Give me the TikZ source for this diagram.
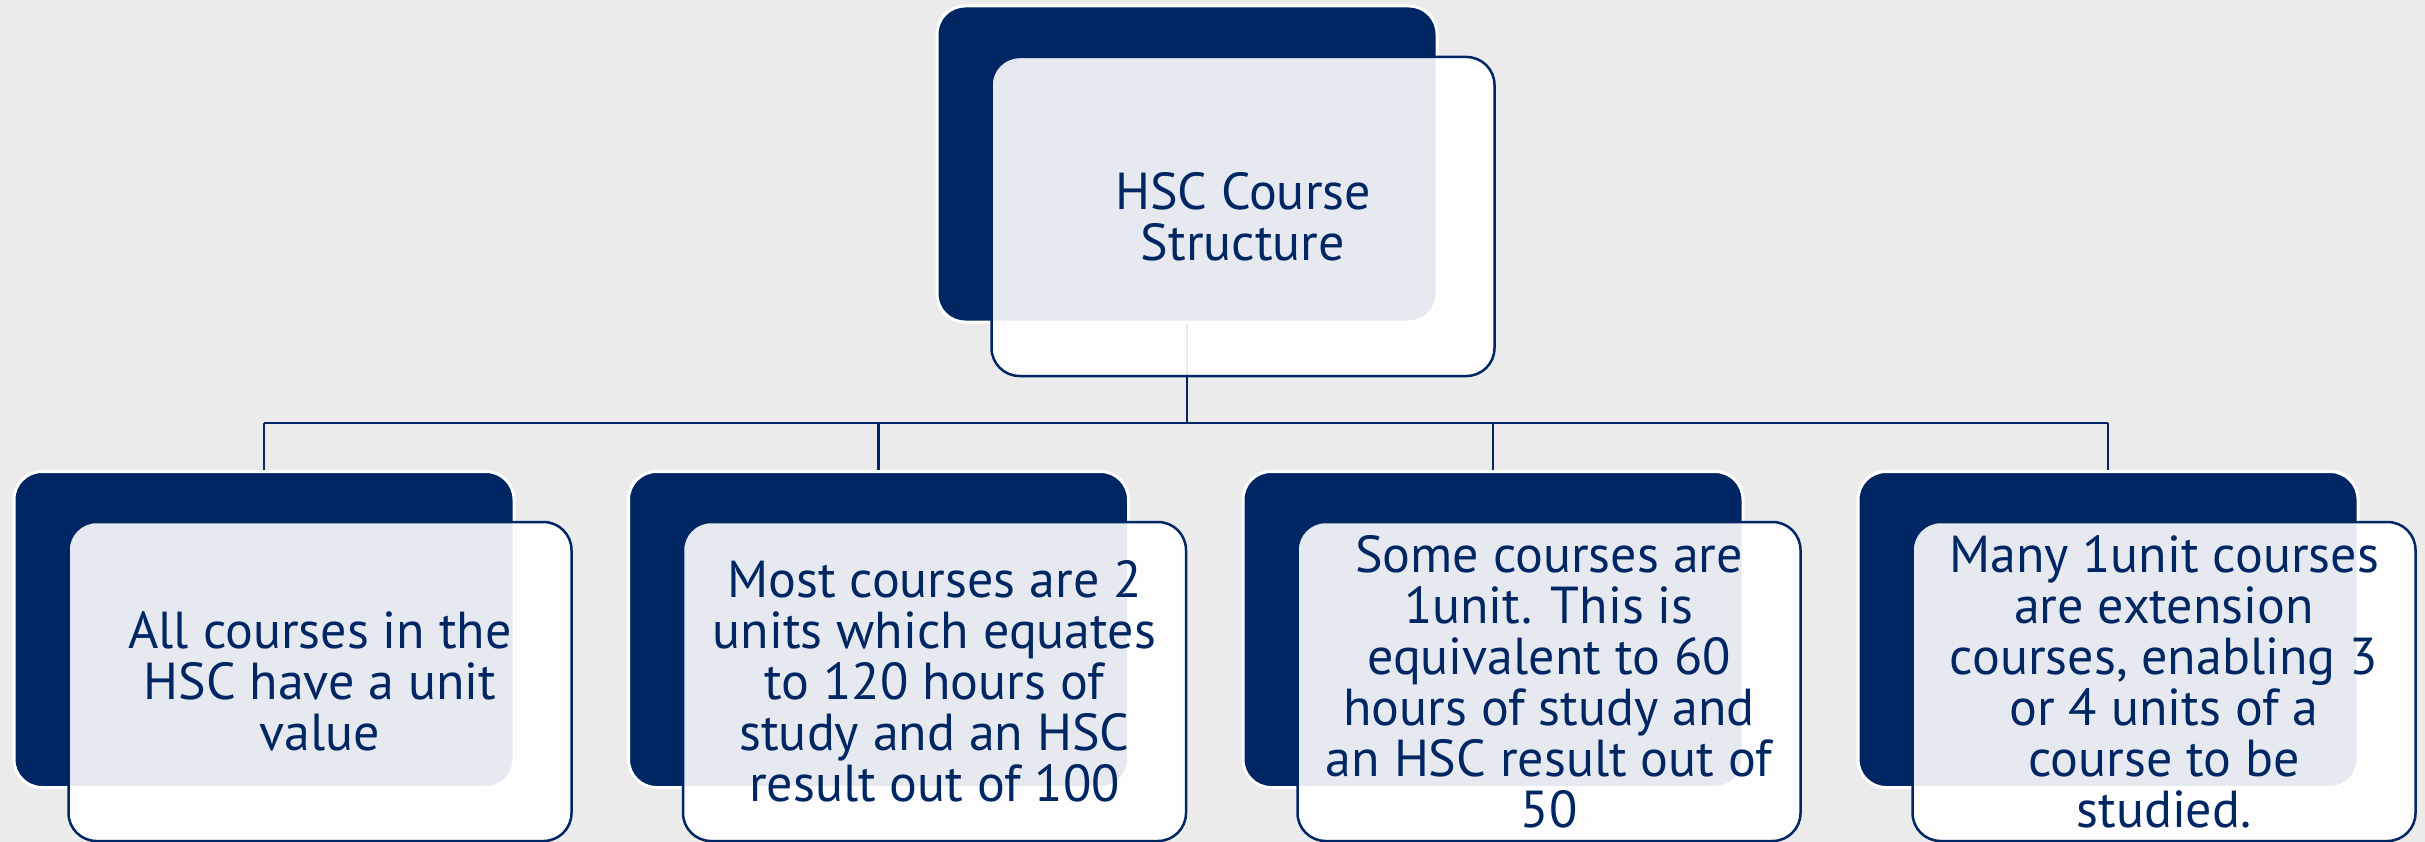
\documentclass[tikz,border=0pt]{standalone}
\usepackage{fontspec}
\setmainfont{PT Sans}
\definecolor{navy}{HTML}{002664}
\definecolor{bg}{HTML}{EBEBEB}
\begin{document}
\begin{tikzpicture}[x=1pt,y=-1pt,
  darkbox/.style={draw=white, line width=3pt, fill=navy, rounded corners=28pt,
    minimum width=500pt, minimum height=316pt, inner sep=0pt},
  frontbox/.style={draw=navy, line width=2.5pt, fill=white, fill opacity=0.9,
    text opacity=1, rounded corners=28pt, minimum width=503pt, minimum height=319pt,
    text=navy, align=center, font=\fontsize{52}{51}\selectfont, inner sep=0pt},
  link/.style={draw=navy, line width=2.5pt}]
\fill[bg] (0,0) rectangle (2425,842);
\useasboundingbox (0,0) rectangle (2425,842);
% dark back boxes
\node[darkbox] (td) at (1187,164) {};
\node[darkbox] (d1) at (264,629.5) {};
\node[darkbox] (d2) at (878.5,629.5) {};
\node[darkbox] (d3) at (1493,629.5) {};
\node[darkbox] (d4) at (2108,629.5) {};
% connectors
\coordinate (busL) at (264,423);
\coordinate (busR) at (2108,423);
\draw[link] (td.south) -- (td.south |- busL);
\draw[link] (busL) -- (busR);
\draw[link] (d1.north) -- (d1.north |- busL);
\draw[link] (d2.north) -- (d2.north |- busL);
\draw[link] (d3.north) -- (d3.north |- busL);
\draw[link] (d4.north) -- (d4.north |- busL);
% front boxes
\node[frontbox] (tf) at (1243,216.5) {HSC Course\\Structure};
\node[frontbox] (f1) at (320,681.5) {All courses in the\\HSC have a unit\\value};
\node[frontbox] (f2) at (934.5,681.5) {Most courses are 2\\units which equates\\to 120 hours of\\study and an HSC\\result out of 100};
\node[frontbox] (f3) at (1549,681.5) {Some courses are\\1unit. This is\\equivalent to 60\\hours of study and\\an HSC result out of\\50};
\node[frontbox] (f4) at (2164,681.5) {Many 1unit courses\\are extension\\courses, enabling 3\\or 4 units of a\\course to be\\studied.};
\end{tikzpicture}
\end{document}
